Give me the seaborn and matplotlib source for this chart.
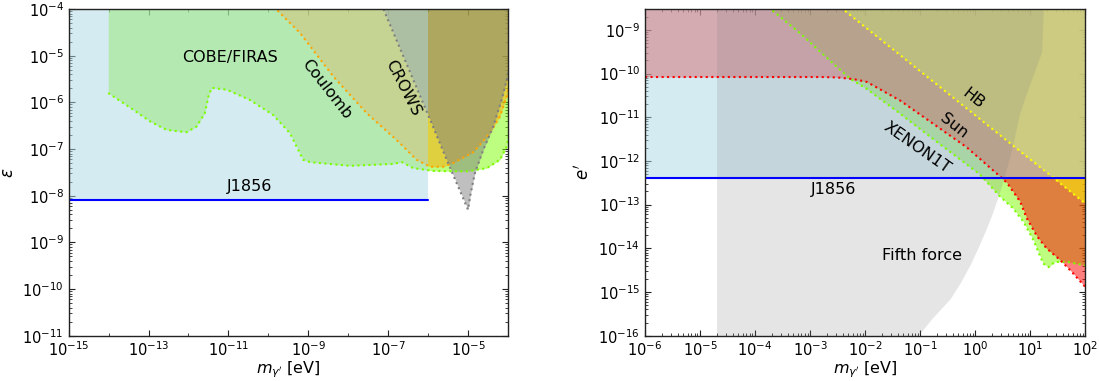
import numpy as np
import pandas as pd
import matplotlib
matplotlib.use("Agg")
import matplotlib.pyplot as plt
import seaborn as sns
from matplotlib.ticker import LogLocator, NullFormatter

# ---------------- left panel: kinetic mixing (log10 values)
j1856_eps = 7.9e-9
j1856_mmax = 1e-6

cobe_logm = [-14.01, -13.38, -12.96, -12.55, -12.05, -11.80, -11.59, -11.50, -11.42,
             -11.04, -10.46, -9.88, -9.46, -9.13, -8.96, -7.96, -6.87, -6.66, -6.37,
             -5.87, -5.03, -4.53, -4.20, -4.03, -3.95]
cobe_logeps = [-5.80, -6.16, -6.41, -6.59, -6.64, -6.52, -6.23, -5.87, -5.69,
               -5.73, -5.95, -6.27, -6.66, -7.23, -7.28, -7.36, -7.32, -7.28, -7.41,
               -7.47, -7.48, -7.41, -7.23, -6.95, -6.60]

coulomb_logm = [-9.95, -9.81, -9.21, -8.37, -7.54, -6.71, -6.29, -5.95, -5.62, -5.37,
                -4.87, -4.45, -4.20, -4.00, -3.95]
coulomb_logeps = [-3.85, -4.00, -4.51, -5.45, -6.23, -6.87, -7.23, -7.38, -7.38, -7.30,
                  -7.07, -6.66, -6.30, -5.80, -5.60]

crows_logm = [-7.25, -7.12, -5.95, -5.50, -5.00, -4.94, -4.83, -4.62, -4.37, -4.16,
              -4.00, -3.90]
crows_logeps = [-3.75, -4.00, -6.37, -7.30, -8.30, -7.98, -7.52, -7.02, -6.52, -5.95,
                -5.42, -5.00]

# ---------------- right panel: e' (log10 values)
j1856_eprime = 4.1e-13

sun_logm = [-6.0, -2.8, -2.5, -2.2, -1.97, -1.36, -0.76, -0.15, 0.45, 0.58, 0.82,
            0.94, 1.13, 1.30, 1.55, 1.76, 2.0]
sun_loge = [-10.08, -10.08, -10.09, -10.13, -10.19, -10.62, -11.15, -11.69, -12.35,
            -12.50, -12.93, -13.31, -13.73, -14.00, -14.27, -14.54, -14.88]

xenon_logm = [-3.90, -3.70, -3.18, -2.58, -2.27, -1.97, -1.36, -0.76, -0.15, 0.09,
              0.45, 0.69, 0.88, 1.06, 1.24, 1.34, 1.45, 1.67, 2.0]
xenon_loge = [-8.30, -8.54, -9.08, -9.77, -10.12, -10.35, -10.92, -11.50, -12.08,
              -12.31, -12.81, -13.08, -13.39, -13.81, -14.35, -14.43, -14.31, -14.31,
              -14.39]

hb_logm = [-2.60, -2.39, -1.36, -0.15, 0.88, 1.36, 2.0]
hb_loge = [-8.33, -8.54, -9.58, -10.80, -11.84, -12.32, -12.97]

fifth_mmin = 2e-5
fifth_logm = [-1.10, -0.78, -0.45, -0.25, -0.08, 0.05, 0.18, 0.30, 0.41, 0.52, 0.60,
              0.70, 0.80, 0.92, 1.05, 1.21, 1.24, 1.25]
fifth_loge = [-16.10, -15.60, -15.15, -14.75, -14.35, -14.00, -13.62, -13.25, -12.85,
              -12.42, -12.05, -11.55, -10.95, -10.50, -10.05, -9.50, -8.54, -8.30]


def exp10(v):
    return np.power(10.0, np.array(v))


sns.set_style("ticks", {"xtick.direction": "in", "ytick.direction": "in"})
plt.rcParams.update({
    "font.family": ["DejaVu Sans"],
    "text.color": "black", "axes.labelcolor": "black",
    "xtick.color": "black", "ytick.color": "black",
    "xtick.top": True, "ytick.right": True,
    "xtick.major.size": 4, "ytick.major.size": 4,
    "xtick.minor.size": 2, "ytick.minor.size": 2,
    "xtick.labelsize": 10.5, "ytick.labelsize": 10.5,
    "axes.edgecolor": "#222222", "axes.linewidth": 1.0,
})

fig = plt.figure(figsize=(10.99, 3.81), dpi=100)
ax1 = fig.add_axes([0.0625, 0.1189, 0.3997, 0.8575])
ax2 = fig.add_axes([0.5869, 0.1189, 0.4004, 0.8575])

dot = dict(linestyle=":", linewidth=1.5, estimator=None, sort=False, legend=False)

# ---------------- left panel
ax1.set_xscale("log")
ax1.set_yscale("log")
ymax1 = 1e-4

m, e = exp10(cobe_logm), exp10(cobe_logeps)
ax1.fill_between(m, e, ymax1, color="lawngreen", alpha=0.5, lw=0)
m, e = exp10(coulomb_logm), exp10(coulomb_logeps)
ax1.fill_between(m, e, ymax1, color="orange", alpha=0.5, lw=0)
m, e = exp10(crows_logm), exp10(crows_logeps)
ax1.fill_between(m, e, ymax1, color="gray", alpha=0.5, lw=0)
ax1.fill_between([1e-15, j1856_mmax], j1856_eps, ymax1, color="lightblue", alpha=0.5, lw=0)

sns.lineplot(x=exp10(cobe_logm), y=exp10(cobe_logeps), color="lawngreen", ax=ax1, **dot)
sns.lineplot(x=exp10(coulomb_logm), y=exp10(coulomb_logeps), color="orange", ax=ax1, **dot)
sns.lineplot(x=exp10(crows_logm), y=exp10(crows_logeps), color="gray", ax=ax1, **dot)
ax1.plot([1e-15, j1856_mmax], [j1856_eps, j1856_eps], color="blue", lw=1.5)

ax1.text(10**-10.96, 10**-5.03, "COBE/FIRAS", fontsize=11.5, ha="center", va="center")
ax1.text(10**-8.54, 10**-5.73, "Coulomb", fontsize=11.5, ha="center", va="center", rotation=-52)
ax1.text(10**-6.62, 10**-5.69, "CROWS", fontsize=11.5, ha="center", va="center", rotation=-63)
ax1.text(10**-10.46, 10**-7.80, "J1856", fontsize=11.5, ha="center", va="center")

ax1.set_xlim(1e-15, 1e-4)
ax1.set_ylim(1e-11, ymax1)
ax1.set_xticks([10.0**k for k in range(-15, -4, 2)])
ax1.xaxis.set_minor_locator(LogLocator(base=10, subs=(1.0,), numticks=30))
ax1.xaxis.set_minor_formatter(NullFormatter())
ax1.yaxis.set_major_locator(LogLocator(base=10, numticks=20))
ax1.yaxis.set_minor_locator(LogLocator(base=10, subs=np.arange(2, 10), numticks=20))
ax1.yaxis.set_minor_formatter(NullFormatter())
ax1.set_xlabel(r"$m_{\gamma'}$ [eV]", fontsize=11.5, labelpad=0)
ax1.set_ylabel(r"$\epsilon$", fontsize=12)

# ---------------- right panel
ax2.set_xscale("log")
ax2.set_yscale("log")
ymax2 = 3e-9

m, e = exp10(xenon_logm), exp10(xenon_loge)
ax2.fill_between(m, e, ymax2, color="lawngreen", alpha=0.5, lw=0)
m, e = exp10(sun_logm), exp10(sun_loge)
ax2.fill_between(m, e, ymax2, color="red", alpha=0.5, lw=0)
m, e = exp10(hb_logm), exp10(hb_loge)
ax2.fill_between(m, e, ymax2, color="yellow", alpha=0.5, lw=0)
ax2.fill_between([1e-6, 1e2], j1856_eprime, ymax2, color="lightblue", alpha=0.5, lw=0)
ax2.fill_betweenx(exp10(fifth_loge), fifth_mmin, exp10(fifth_logm), color="gray", alpha=0.2, lw=0)

sns.lineplot(x=exp10(xenon_logm), y=exp10(xenon_loge), color="lawngreen", ax=ax2, **dot)
sns.lineplot(x=exp10(sun_logm), y=exp10(sun_loge), color="red", ax=ax2, **dot)
sns.lineplot(x=exp10(hb_logm), y=exp10(hb_loge), color="yellow", ax=ax2, **dot)
ax2.axhline(j1856_eprime, color="blue", lw=1.5)

ax2.text(10**-0.03, 10**-10.58, "HB", fontsize=11.5, ha="center", va="center", rotation=-38)
ax2.text(10**-0.39, 10**-11.19, "Sun", fontsize=11.5, ha="center", va="center", rotation=-38)
ax2.text(10**-1.06, 10**-11.69, "XENON1T", fontsize=11.5, ha="center", va="center", rotation=-35)
ax2.text(10**-2.58, 10**-12.66, "J1856", fontsize=11.5, ha="center", va="center")
ax2.text(10**-0.97, 10**-14.16, "Fifth force", fontsize=11.5, ha="center", va="center")

ax2.set_xlim(1e-6, 1e2)
ax2.set_ylim(1e-16, ymax2)
ax2.xaxis.set_major_locator(LogLocator(base=10, numticks=20))
ax2.xaxis.set_minor_locator(LogLocator(base=10, subs=np.arange(2, 10), numticks=20))
ax2.xaxis.set_minor_formatter(NullFormatter())
ax2.yaxis.set_major_locator(LogLocator(base=10, numticks=20))
ax2.yaxis.set_minor_locator(LogLocator(base=10, subs=np.arange(2, 10), numticks=20))
ax2.yaxis.set_minor_formatter(NullFormatter())
ax2.set_xlabel(r"$m_{\gamma'}$ [eV]", fontsize=11.5, labelpad=0)
ax2.set_ylabel(r"$e'$", fontsize=12)

for ax in (ax1, ax2):
    ax.tick_params(which="both", direction="in", top=True, right=True, color="#222222")

fig.savefig("out.png", dpi=100)
